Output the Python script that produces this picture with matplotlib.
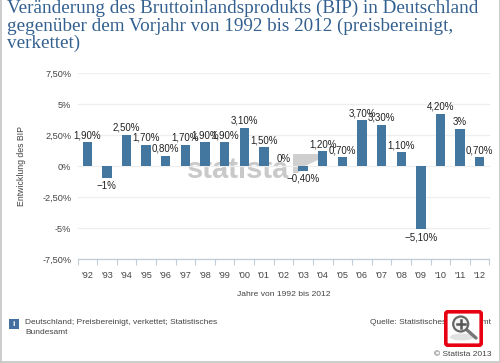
import matplotlib
matplotlib.use('Agg')
import matplotlib.pyplot as plt
import matplotlib.patches as patches

W, H = 500, 363

years = ["'92", "'93", "'94", "'95", "'96", "'97", "'98", "'99", "'00", "'01", "'02",
         "'03", "'04", "'05", "'06", "'07", "'08", "'09", "'10", "'11", "'12"]
growth = [1.9, -1.0, 2.5, 1.7, 0.8, 1.7, 1.9, 1.9, 3.1, 1.5, 0.0,
          -0.4, 1.2, 0.7, 3.7, 3.3, 1.1, -5.1, 4.2, 3.0, 0.7]
y_ticks = [-7.5, -5, -2.5, 0, 2.5, 5, 7.5]
y_labels = ['-7,50%', '-5%', '-2,50%', '0%', '2,50%', '5%', '7,50%']
title_lines = ['Veränderung des Bruttoinlandsprodukts (BIP) in Deutschland',
               'gegenüber dem Vorjahr von 1992 bis 2012 (preisbereinigt,',
               'verkettet)']

BLUE = '#44779f'
TEXT = '#444444'
plt.rcParams['font.family'] = ['Liberation Sans', 'DejaVu Sans']


def fmt_label(v):
    # german style labels: 1,90% but 3% and -1%
    if v == int(v):
        s = f'{int(abs(v))}%'
    else:
        s = f'{abs(v):.2f}'.replace('.', ',') + '%'
    return ('\u2212' + s) if v < 0 else s


fig = plt.figure(figsize=(W / 100, H / 100), dpi=100, facecolor='white')

# overlay in pixel coordinates for the page furniture
bg = fig.add_axes([0, 0, 1, 1])
bg.set_xlim(0, W)
bg.set_ylim(H, 0)
bg.axis('off')
bg.plot([0.5, 0.5], [0, H - 1], color='#c4c4c4', lw=1.2)
bg.plot([499.5, 499.5], [0, H - 1], color='#c4c4c4', lw=1.2)
bg.plot([0, W], [362, 362], color='#c4c4c4', lw=1.2)

# watermark behind the bars
bg.text(187, 170, 'statista', fontsize=21, fontweight='bold', color='#c9c9c9',
        ha='left', va='center')
bg.add_patch(patches.Polygon([(293, 154), (318, 154), (318, 160), (305, 166), (298, 173), (293, 173)],
                             facecolor='#cfcfcf', edgecolor='none'))

# main chart
ax = fig.add_axes([77.5 / W, 1 - 259 / H, 412 / W, 186 / H])
ax.patch.set_alpha(0)
x = list(range(len(years)))
ax.bar(x, growth, width=0.48, color=BLUE, zorder=3)
ax.set_xlim(-0.5, len(years) - 0.5)
ax.set_ylim(-7.5, 7.5)

for i, v in enumerate(growth):
    if v < 0:
        ax.annotate(fmt_label(v), (i, v), xytext=(0, -2), textcoords='offset points',
                    ha='center', va='top', fontsize=7, color='#222222', zorder=4)
    else:
        ax.annotate(fmt_label(v), (i, v), xytext=(0, 1.5), textcoords='offset points',
                    ha='center', va='bottom', fontsize=7, color='#222222', zorder=4)

ax.set_yticks(y_ticks)
ax.set_yticklabels(y_labels, fontsize=6.6, color=TEXT)
ax.set_xticks(x)
ax.set_xticklabels(years, fontsize=6.6, color=TEXT)
ax.set_xticks([i - 0.5 for i in range(len(years) + 1)], minor=True)
ax.tick_params(axis='y', length=0, pad=4.5)
ax.tick_params(axis='x', which='major', length=0, pad=8.5)
ax.tick_params(axis='x', which='minor', length=4, width=0.8, color='#c0ccd8')
ax.grid(True, axis='y', color='#eeeeee', lw=0.9, zorder=0)
for name in ['top', 'left', 'right']:
    ax.spines[name].set_visible(False)
ax.spines['bottom'].set_color('#c0ccd8')
ax.spines['bottom'].set_linewidth(0.9)

# title and axis titles
for line, ypos in zip(title_lines, [13, 31, 48]):
    bg.text(7, ypos, line, fontsize=13.75, color='#33608f', family='Liberation Serif',
            ha='left', va='baseline')
bg.text(22, 166, 'Entwicklung des BIP', rotation=90, fontsize=6.3, color=TEXT,
        ha='center', va='center')
bg.text(284, 294, 'Jahre von 1992 bis 2012', fontsize=6.1, color=TEXT,
        ha='center', va='center')

# footer
bg.add_patch(patches.Rectangle((9, 319), 10, 10, facecolor='#44709f', edgecolor='none'))
bg.text(14, 324.5, 'i', fontsize=6, fontweight='bold', color='white', ha='center', va='center')
bg.text(25, 323, 'Deutschland; Preisbereinigt, verkettet; Statistisches', fontsize=6.05,
        color=TEXT, ha='left', va='center')
bg.text(25, 333, 'Bundesamt', fontsize=6.05, color=TEXT, ha='left', va='center')
bg.text(491, 323, 'Quelle: Statistisches Bundesamt', fontsize=6.05, color=TEXT,
        ha='right', va='center')
bg.text(491, 354, '© Statista 2013', fontsize=6.05, color=TEXT, ha='right', va='center')

# zoom badge on top of the source line
bg.add_patch(patches.FancyBboxPatch((445.8, 311.8), 35.4, 33.4,
                                    boxstyle='round,pad=0,rounding_size=2',
                                    facecolor='white', edgecolor='#e60012', lw=2.6, zorder=5))
bg.add_patch(patches.Ellipse((462, 337), 24, 7, facecolor='#e2e2e2', edgecolor='none', zorder=6))
bg.plot([467, 476], [330, 338], color='#777777', lw=2.4, solid_capstyle='round', zorder=7)
bg.add_patch(patches.Circle((460.7, 324), 7.5, facecolor='#f4f4f4', edgecolor='#666666',
                            lw=1.6, zorder=7))
bg.plot([456.7, 464.7], [324, 324], color='#555555', lw=1.8, zorder=8)
bg.plot([460.7, 460.7], [320, 328], color='#555555', lw=1.8, zorder=8)

fig.savefig('out.png', dpi=100)
